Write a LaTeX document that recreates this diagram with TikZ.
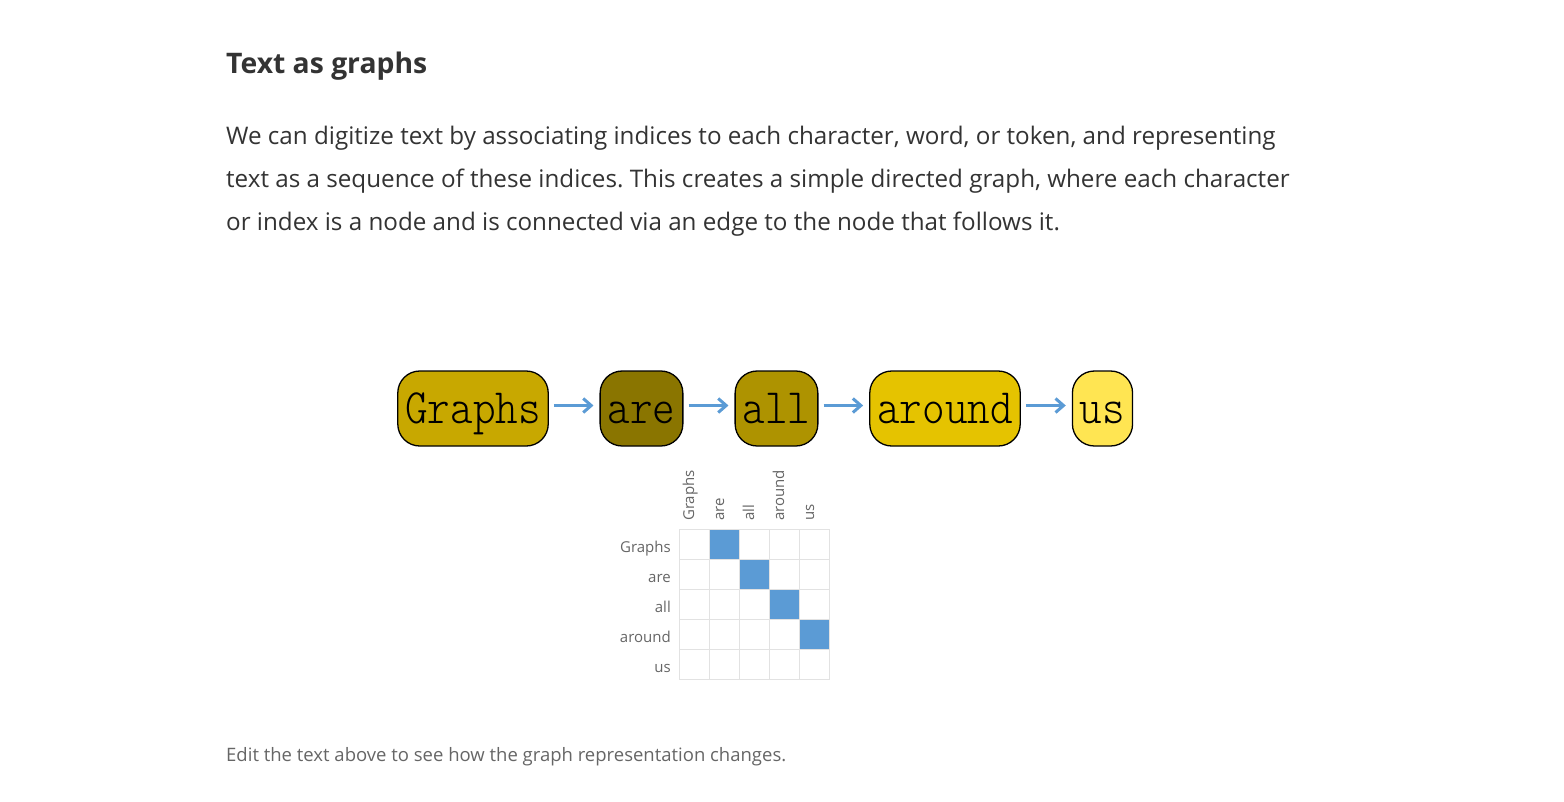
\documentclass[tikz,border=0pt]{standalone}
\usepackage{fontspec}
\setmainfont{Open Sans}
\newfontfamily\uifont{Open Sans}
\newfontfamily\monofont{Latin Modern Mono Light}
\usetikzlibrary{arrows.meta,calc}
\frenchspacing
\definecolor{txt}{HTML}{333333}
\definecolor{subtxt}{HTML}{666666}
\definecolor{edgeblue}{RGB}{91,155,213}
\definecolor{gridgray}{HTML}{E2E2E2}
\definecolor{cGraphs}{RGB}{200,168,0}
\definecolor{care}{RGB}{138,117,0}
\definecolor{call}{RGB}{174,147,0}
\definecolor{caround}{RGB}{229,195,0}
\definecolor{cus}{RGB}{255,229,82}
\tikzset{
  word/.style={draw=black, line width=1.3pt, rounded corners=22pt, minimum height=75pt,
    inner xsep=7.5pt, inner ysep=0pt, text height=34pt, text depth=5pt,
    font=\monofont\fontsize{43}{43}\selectfont, text=black},
  link/.style={draw=edgeblue, line width=3pt, -{Straight Barb[length=8pt,width=14pt,line width=3pt]}},
  cell/.style={draw=gridgray, line width=1pt, fill=white},
  hit/.style={draw=gridgray, line width=1pt, fill=edgeblue},
  rowlab/.style={anchor=base east, font=\uifont\fontsize{15}{15}\selectfont, text=subtxt, inner sep=0pt},
  collab/.style={anchor=base west, rotate=90, font=\uifont\fontsize{15}{15}\selectfont, text=subtxt, inner sep=0pt},
  para/.style={anchor=base west, inner sep=0pt, text=txt, font=\uifont\fontsize{24.2}{24.2}\selectfont}
}
\begin{document}
\begin{tikzpicture}[x=1pt,y=-1pt]
\useasboundingbox[fill=white] (0,0) rectangle (1564,801);
% title and paragraph
\node[anchor=base west, inner sep=0pt, text=txt, font=\uifont\bfseries\fontsize{28.3}{28.3}\selectfont] (title) at (226,73) {Text as graphs};
\node[para] (p1) at (226,144) {We can digitize text by associating indices to each character, word, or token, and representing};
\node[para] (p2) at (226,187) {text as a sequence of these indices. This creates a simple directed graph, where each character};
\node[para] (p3) at (226,230) {or index is a node and is connected via an edge to the node that follows it.};
% word nodes
\node[word, fill=cGraphs] (w1) at (473,408.5) {\scalebox{1}[1.15]{Graphs}};
\node[word, fill=care] (w2) at (641.5,408.5) {\scalebox{1}[1.15]{are}};
\node[word, fill=call] (w3) at (776.5,408.5) {\scalebox{1}[1.15]{all}};
\node[word, fill=caround] (w4) at (945,408.5) {\scalebox{1}[1.15]{around}};
\node[word, fill=cus] (w5) at (1102.5,408.5) {\scalebox{1}[1.15]{us}};
\foreach \a/\b in {w1/w2,w2/w3,w3/w4,w4/w5}{
  \draw[link] ($(\a.east)+(5,-3)$) -- ($(\b.west)+(-6,-3)$);
}
% adjacency matrix
\foreach \r in {0,...,4}{
  \foreach \c in {0,...,4}{
    \pgfmathtruncatemacro{\nxt}{\r+1}
    \ifnum\c=\nxt
      \node[hit, minimum size=30pt, inner sep=0pt] (m\r\c) at (694+30*\c,544+30*\r) {};
    \else
      \node[cell, minimum size=30pt, inner sep=0pt] (m\r\c) at (694+30*\c,544+30*\r) {};
    \fi
  }
}
\foreach \n/\w in {0/Graphs,1/are,2/all,3/around,4/us}{
  \node[rowlab] (r\n) at (671,552+30*\n) {\w};
  \node[collab] (c\n) at (694+30*\n,521) {\w};
}
% caption
\node[anchor=base west, inner sep=0pt, text=subtxt, font=\uifont\fontsize{18.5}{18.5}\selectfont] (cap) at (226,761) {Edit the text above to see how the graph representation changes.};
\end{tikzpicture}
\end{document}
